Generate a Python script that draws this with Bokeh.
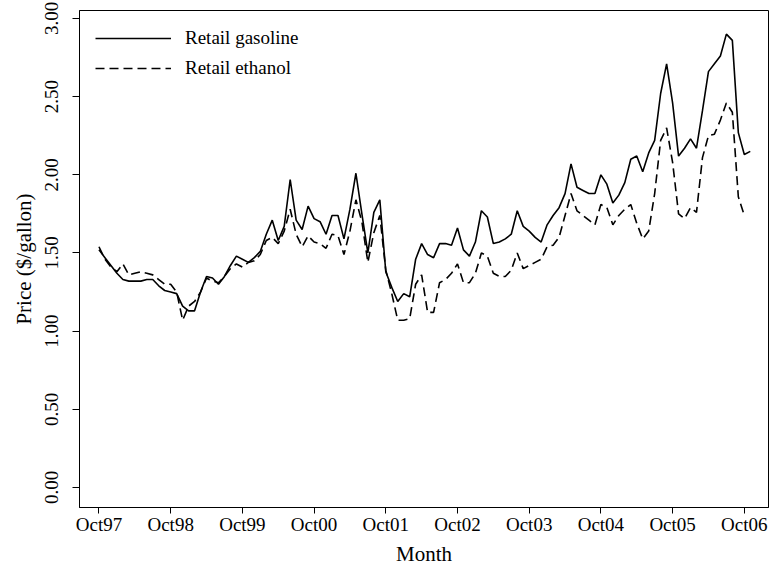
import numpy as np
from bokeh.plotting import figure
from bokeh.models import FixedTicker, Range1d, Legend, LegendItem, NumeralTickFormatter, ColumnDataSource
from bokeh.embed import file_html
from bokeh.resources import INLINE

# Monthly retail gasoline price, Oct 1997 .. Nov 2006 ($/gallon)
gasoline = [1.52, 1.47, 1.42, 1.37, 1.33, 1.32, 1.32, 1.32, 1.33, 1.33, 1.29, 1.26,
            1.25, 1.24, 1.16, 1.13, 1.13, 1.25, 1.35, 1.34, 1.30, 1.35, 1.42, 1.48,
            1.46, 1.44, 1.47, 1.51, 1.62, 1.71, 1.58, 1.67, 1.97, 1.71, 1.65, 1.80,
            1.72, 1.70, 1.62, 1.74, 1.74, 1.59, 1.78, 2.01, 1.75, 1.50, 1.76, 1.84,
            1.38, 1.28, 1.19, 1.24, 1.22, 1.46, 1.56, 1.49, 1.47, 1.56, 1.56, 1.55,
            1.66, 1.52, 1.48, 1.57, 1.77, 1.73, 1.56, 1.57, 1.59, 1.62, 1.77, 1.67,
            1.64, 1.60, 1.57, 1.68, 1.74, 1.79, 1.88, 2.07, 1.92, 1.90, 1.88, 1.88,
            2.00, 1.94, 1.82, 1.87, 1.95, 2.10, 2.12, 2.02, 2.14, 2.22, 2.52, 2.71,
            2.46, 2.12, 2.17, 2.23, 2.17, 2.41, 2.66, 2.71, 2.76, 2.90, 2.86, 2.27,
            2.13, 2.15]
# Monthly retail ethanol price, Oct 1997 .. Oct 2006 ($/gallon)
ethanol = [1.54, 1.46, 1.41, 1.38, 1.43, 1.36, 1.37, 1.38, 1.37, 1.36, 1.33, 1.30,
           1.30, 1.25, 1.07, 1.16, 1.19, 1.25, 1.34, 1.32, 1.31, 1.35, 1.40, 1.43,
           1.41, 1.44, 1.45, 1.49, 1.58, 1.60, 1.56, 1.64, 1.78, 1.62, 1.54, 1.61,
           1.57, 1.56, 1.53, 1.62, 1.61, 1.49, 1.64, 1.84, 1.70, 1.44, 1.63, 1.74,
           1.39, 1.24, 1.07, 1.07, 1.08, 1.30, 1.36, 1.12, 1.12, 1.31, 1.33, 1.37,
           1.43, 1.31, 1.31, 1.37, 1.50, 1.48, 1.37, 1.35, 1.35, 1.39, 1.50, 1.40,
           1.42, 1.44, 1.46, 1.54, 1.55, 1.60, 1.74, 1.88, 1.77, 1.74, 1.71, 1.68,
           1.81, 1.79, 1.68, 1.74, 1.78, 1.81, 1.69, 1.59, 1.64, 1.88, 2.22, 2.30,
           2.08, 1.75, 1.72, 1.79, 1.76, 2.11, 2.25, 2.26, 2.35, 2.46, 2.40, 1.86,
           1.74]
tick_labels = ["Oct97", "Oct98", "Oct99", "Oct00", "Oct01",
               "Oct02", "Oct03", "Oct04", "Oct05", "Oct06"]
y_ticks = [0.0, 0.5, 1.0, 1.5, 2.0, 2.5, 3.0]

tick_pos = [12 * k for k in range(len(tick_labels))]  # months since Oct 1997

FONT = "Liberation Serif"

p = figure(width=769, height=568, output_backend="svg", toolbar_location=None,
           x_range=Range1d(-3.26, 112.05), y_range=Range1d(-0.128, 3.051),
           min_border_left=79, min_border_right=1, min_border_top=10, min_border_bottom=61)
p.xgrid.visible = False
p.ygrid.visible = False
p.outline_line_color = "black"
p.outline_line_alpha = 1.0
p.outline_line_width = 1
p.background_fill_color = "white"
p.border_fill_color = "white"

gas_src = ColumnDataSource(dict(m=np.arange(len(gasoline)), v=gasoline))
eth_src = ColumnDataSource(dict(m=np.arange(len(ethanol)), v=ethanol))
r1 = p.line("m", "v", source=gas_src, line_color="black", line_width=1.6)
r2 = p.line("m", "v", source=eth_src, line_color="black", line_width=1.6, line_dash="9 5")

legend = Legend(items=[LegendItem(label="Retail gasoline", renderers=[r1]),
                       LegendItem(label="Retail ethanol", renderers=[r2])],
                location="top_left")
legend.border_line_color = None
legend.background_fill_alpha = 0
legend.margin = 16
legend.padding = 0
legend.glyph_width = 76
legend.glyph_height = 24
legend.label_height = 24
legend.spacing = 6
legend.label_standoff = 14
legend.label_text_font = FONT
legend.label_text_font_size = "19px"
legend.label_text_color = "black"
p.add_layout(legend)

xa = p.xaxis[0]
xa.ticker = FixedTicker(ticks=tick_pos)
xa.major_label_overrides = {pos: lab for pos, lab in zip(tick_pos, tick_labels)}
xa.axis_label = "Month"
ya = p.yaxis[0]
ya.ticker = FixedTicker(ticks=y_ticks)
ya.formatter = NumeralTickFormatter(format="0.00")
ya.axis_label = "Price ($/gallon)"
ya.major_label_orientation = "vertical"

for ax in (xa, ya):
    ax.axis_line_color = "black"
    ax.major_tick_line_color = "black"
    ax.major_tick_out = 7
    ax.major_tick_in = 0
    ax.minor_tick_line_color = None
    ax.major_label_text_font = FONT
    ax.major_label_text_font_size = "19px"
    ax.major_label_text_color = "black"
    ax.axis_label_text_font = FONT
    ax.axis_label_text_font_size = "21px"
    ax.axis_label_text_font_style = "normal"
    ax.axis_label_text_color = "black"
xa.major_tick_out = 6
xa.major_label_standoff = 0
xa.axis_label_standoff = 4
ya.major_label_standoff = 14
ya.axis_label_standoff = 7

open("out.html", "w").write(file_html(p, INLINE))
